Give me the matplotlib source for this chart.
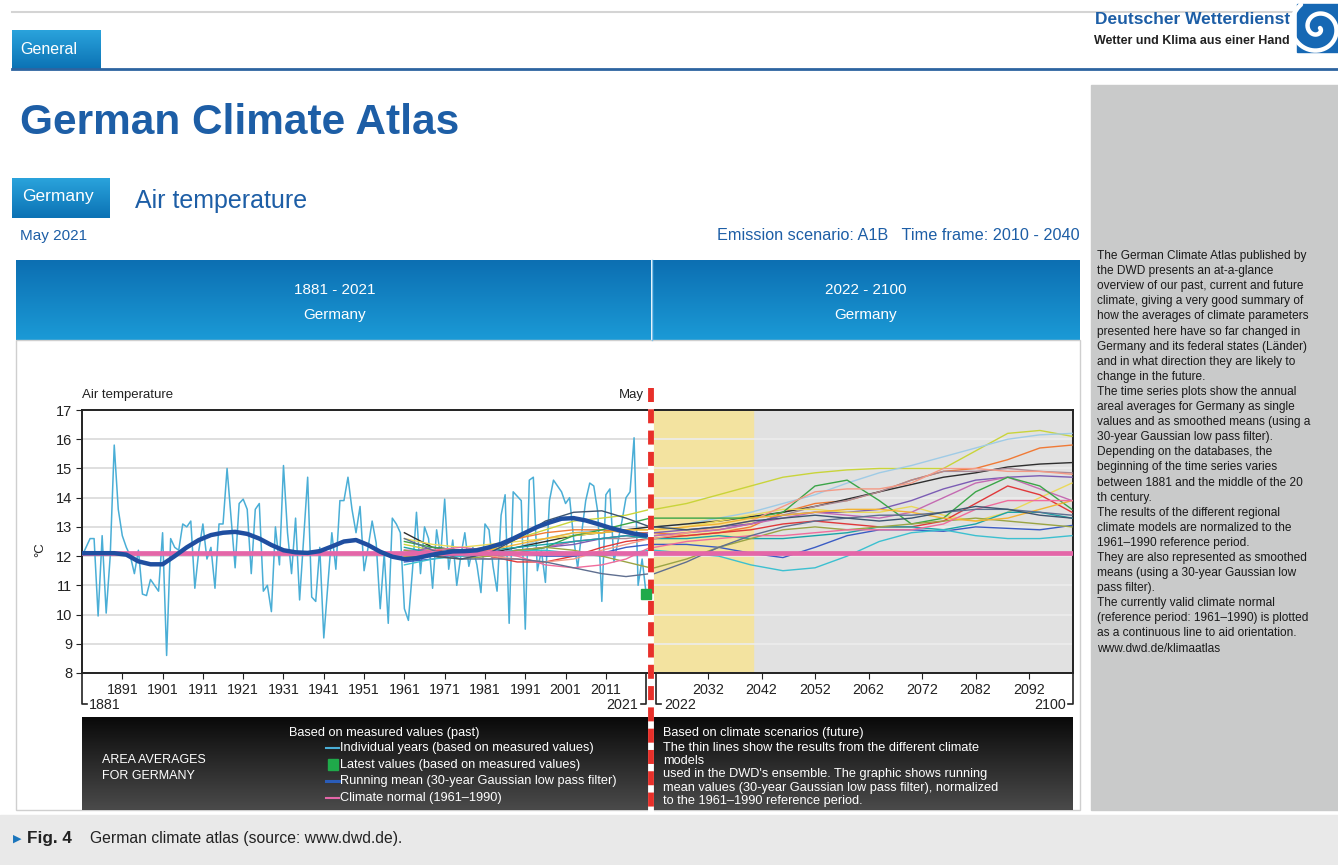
import numpy as np
import matplotlib.pyplot as plt
from matplotlib.colors import LinearSegmentedColormap
from matplotlib.patches import Rectangle
from matplotlib import font_manager

# --- dane (maj, srednia obszarowa Niemiec, degC) ---
YEARS = list(range(1881, 2022))
TEMP = [
    12.0, 12.3, 12.6, 12.6, 9.95, 12.7, 10.05, 12.0, 15.8, 13.6,      # 1881-1890
    12.7, 12.3, 12.0, 11.4, 12.2, 10.7, 10.65, 11.2, 11.0, 10.8,      # 1891-1900
    12.8, 8.6, 12.6, 12.3, 12.2, 13.1, 13.0, 13.2, 10.9, 12.2,        # 1901-1910
    13.1, 11.9, 12.3, 10.9, 13.1, 13.1, 15.0, 13.3, 11.6, 13.8,       # 1911-1920
    13.95, 13.6, 11.4, 13.6, 13.8, 10.8, 11.0, 10.1, 13.0, 11.7,      # 1921-1930
    15.1, 12.8, 11.4, 13.3, 10.5, 12.6, 14.7, 10.6, 10.45, 12.3,      # 1931-1940
    9.2, 11.0, 12.8, 11.55, 13.9, 13.9, 14.7, 13.6, 12.8, 13.7,       # 1941-1950
    11.5, 12.3, 13.2, 12.45, 10.2, 12.1, 9.7, 13.3, 13.1, 12.8,       # 1951-1960
    10.2, 9.8, 11.5, 13.5, 11.4, 13.0, 12.6, 10.9, 12.9, 12.0,        # 1961-1970
    13.95, 11.55, 12.55, 11.0, 12.0, 12.8, 11.65, 12.3, 11.7, 10.75,  # 1971-1980
    13.1, 12.9, 11.65, 10.8, 13.4, 14.1, 9.7, 14.2, 14.05, 13.9,      # 1981-1990
    9.5, 14.6, 14.7, 11.5, 12.2, 11.1, 13.9, 14.6, 14.4, 14.2,        # 1991-2000
    13.8, 14.0, 12.6, 11.6, 12.8, 13.9, 14.5, 14.4, 13.5, 10.45,      # 2001-2010
    14.1, 14.3, 11.8, 12.5, 13.2, 14.0, 14.2, 16.05, 11.0, 11.9,      # 2011-2020
    10.7,                                                              # 2021
]
LATEST_YEAR = 2021
LATEST_VALUE = 10.7
CLIMATE_NORMAL = 12.1

RM_YEARS = [1881, 1885, 1889, 1892, 1895, 1898, 1901, 1904, 1907, 1910, 1913,
            1916, 1919, 1922, 1925, 1928, 1931, 1934, 1937, 1940, 1943, 1946,
            1949, 1952, 1955, 1958, 1961, 1964, 1967, 1970, 1973, 1976, 1979,
            1982, 1985, 1988, 1991, 1994, 1997, 2000, 2003, 2006, 2009, 2012,
            2015, 2018, 2021]
RM_VALUES = [12.1, 12.1, 12.1, 12.05, 11.82, 11.72, 11.72, 12.0, 12.3, 12.55,
             12.72, 12.8, 12.83, 12.76, 12.6, 12.38, 12.2, 12.13, 12.11, 12.17,
             12.33, 12.5, 12.55, 12.38, 12.15, 11.98, 11.9, 11.93, 12.02, 12.1,
             12.16, 12.17, 12.2, 12.3, 12.42, 12.6, 12.8, 13.0, 13.15, 13.28,
             13.3, 13.22, 13.1, 12.97, 12.86, 12.77, 12.7]

# modele klimatyczne (A1B), wygladzone, znormalizowane do 1961-1990
MODEL_YEARS = [1961, 1968, 1975, 1982, 1989, 1996, 2003, 2010, 2016, 2022, 2028,
               2034, 2040, 2046, 2052, 2058, 2064, 2070, 2076, 2082, 2088, 2094, 2100]
MODEL_RUNS = [
    [12.4, 12.2, 12.1, 12.2, 12.6, 12.9, 13.2, 13.3, 13.4, 13.6, 13.8, 14.1, 14.4, 14.7, 14.85, 14.95, 15.0, 15.0, 15.0, 15.6, 16.2, 16.3, 16.1],
    [12.0, 12.1, 12.0, 12.1, 12.3, 12.6, 12.8, 12.9, 12.9, 13.0, 13.1, 13.3, 13.5, 13.8, 14.1, 14.5, 14.85, 15.1, 15.4, 15.7, 16.0, 16.15, 16.2],
    [11.9, 12.1, 12.2, 12.3, 12.6, 12.8, 12.9, 12.9, 12.8, 12.8, 12.7, 12.8, 13.0, 13.5, 13.8, 13.9, 14.2, 14.6, 14.9, 15.0, 15.3, 15.7, 15.8],
    [12.8, 12.3, 12.2, 12.1, 12.3, 12.5, 12.7, 12.8, 12.9, 13.0, 13.1, 13.2, 13.35, 13.5, 13.7, 13.95, 14.2, 14.45, 14.7, 14.85, 15.05, 15.15, 15.2],
    [12.2, 12.1, 12.0, 11.9, 12.1, 12.3, 12.5, 12.6, 12.6, 12.7, 12.8, 12.9, 13.1, 13.4, 13.7, 13.9, 14.2, 14.6, 14.9, 14.9, 15.0, 14.9, 14.85],
    [12.1, 12.3, 12.2, 12.1, 12.2, 12.3, 12.4, 12.6, 12.7, 12.8, 12.9, 13.0, 13.1, 13.4, 13.5, 13.5, 13.6, 13.9, 14.3, 14.6, 14.7, 14.75, 14.7],
    [12.6, 12.4, 12.3, 12.4, 12.5, 12.6, 12.7, 12.8, 12.9, 12.9, 13.0, 13.2, 13.4, 13.6, 13.6, 13.5, 13.5, 13.7, 13.4, 13.2, 13.5, 14.0, 14.5],
    [12.2, 12.2, 12.1, 12.1, 12.2, 12.3, 12.5, 12.6, 12.7, 12.7, 12.8, 12.9, 13.1, 13.3, 13.5, 13.4, 13.3, 13.5, 14.0, 14.5, 14.7, 14.3, 13.9],
    [12.5, 12.3, 12.2, 12.0, 12.1, 12.3, 12.7, 12.9, 13.1, 13.3, 13.3, 13.3, 13.3, 13.5, 14.4, 14.6, 13.9, 13.1, 13.3, 14.2, 14.7, 14.4, 13.6],
    [12.0, 12.2, 12.1, 12.0, 11.8, 11.8, 12.0, 12.3, 12.5, 12.6, 12.7, 12.8, 12.9, 13.1, 13.2, 13.1, 13.0, 13.0, 13.2, 13.8, 14.4, 14.1, 13.5],
    [12.3, 12.1, 12.0, 12.2, 12.3, 12.4, 12.5, 12.6, 12.7, 12.6, 12.6, 12.7, 12.6, 12.6, 12.7, 12.8, 13.0, 13.0, 12.9, 13.1, 13.5, 13.5, 13.3],
    [11.8, 11.9, 12.1, 12.2, 12.1, 12.0, 12.0, 12.1, 12.3, 12.4, 12.4, 12.3, 12.1, 11.95, 12.3, 12.7, 12.9, 12.9, 12.85, 13.0, 12.95, 12.9, 13.05],
    [11.7, 11.9, 12.0, 12.1, 12.2, 12.2, 12.1, 12.0, 12.1, 12.2, 12.1, 12.0, 11.7, 11.5, 11.6, 12.0, 12.5, 12.8, 12.9, 12.7, 12.6, 12.6, 12.7],
    [12.0, 12.1, 12.2, 12.0, 11.9, 11.8, 11.9, 12.2, 12.4, 12.6, 12.8, 13.0, 13.2, 13.7, 14.2, 14.3, 14.3, 14.5, 15.0, 15.0, 14.9, 14.9, 14.8],
    [12.2, 12.0, 11.9, 12.0, 12.2, 12.3, 12.2, 12.0, 11.8, 11.6, 11.9, 12.3, 12.6, 12.9, 13.0, 12.9, 13.0, 13.1, 13.2, 13.3, 13.2, 13.1, 13.0],
    [12.0, 12.0, 12.1, 12.2, 12.4, 12.6, 12.8, 12.8, 12.9, 12.9, 13.0, 13.1, 13.3, 13.4, 13.5, 13.6, 13.6, 13.5, 13.3, 13.2, 13.3, 13.6, 13.9],
    [12.1, 12.2, 12.3, 12.2, 12.0, 11.7, 11.6, 11.7, 11.9, 12.3, 12.5, 12.6, 12.7, 12.7, 12.8, 12.9, 12.9, 12.9, 13.1, 13.6, 13.9, 13.9, 13.9],
    [12.6, 12.2, 11.9, 11.9, 11.9, 11.8, 11.6, 11.4, 11.3, 11.4, 11.8, 12.3, 12.7, 13.0, 13.2, 13.3, 13.4, 13.4, 13.5, 13.6, 13.6, 13.5, 13.4],
    [12.1, 12.0, 11.9, 12.1, 12.6, 13.2, 13.5, 13.55, 13.3, 13.0, 12.9, 13.0, 13.2, 13.3, 13.4, 13.3, 13.2, 13.3, 13.5, 13.7, 13.6, 13.4, 13.3],
]
MODEL_COLORS = ["#c9d43a", "#9fcbe6", "#f07a36", "#2e2e2e", "#a98a96", "#7b5cb4",
                "#ead95a", "#c46ab2", "#3ba548", "#e0383a", "#1aa4a8", "#3b5cc4",
                "#3cc0d0", "#f49a86", "#9aa444", "#f2b234", "#f06c9c", "#5f6f90",
                "#3d5570"]

LEFT_TICKS = list(range(1891, 2012, 10))
RIGHT_TICKS = list(range(2032, 2093, 10))
Y_TICKS = list(range(8, 18))

SIDEBAR = [
    "The German Climate Atlas published by",
    "the DWD presents an at-a-glance",
    "overview of our past, current and future",
    "climate, giving a very good summary of",
    "how the averages of climate parameters",
    "presented here have so far changed in",
    "Germany and its federal states (Länder)",
    "and in what direction they are likely to",
    "change in the future.",
    "The time series plots show the annual",
    "areal averages for Germany as single",
    "values and as smoothed means (using a",
    "30-year Gaussian low pass filter).",
    "Depending on the databases, the",
    "beginning of the time series varies",
    "between 1881 and the middle of the 20",
    "th century.",
    "The results of the different regional",
    "climate models are normalized to the",
    "1961–1990 reference period.",
    "They are also represented as smoothed",
    "means (using a 30-year Gaussian low",
    "pass filter).",
    "The currently valid climate normal",
    "(reference period: 1961–1990) is plotted",
    "as a continuous line to aid orientation.",
    "www.dwd.de/klimaatlas",
]
LEGEND_PAST = [
    "Individual years (based on measured values)",
    "Latest values (based on measured values)",
    "Running mean (30-year Gaussian low pass filter)",
    "Climate normal (1961–1990)",
]
LEGEND_FUTURE = [
    "The thin lines show the results from the different climate",
    "models",
    "used in the DWD's ensemble. The graphic shows running",
    "mean values (30-year Gaussian low pass filter), normalized",
    "to the 1961–1990 reference period.",
]

# --- czcionki ---
names = {f.name for f in font_manager.fontManager.ttflist}
NARROW = "Liberation Sans Narrow" if "Liberation Sans Narrow" in names else "Liberation Sans"
CAP_SIZE = 13 if NARROW == "Liberation Sans Narrow" else 11
plt.rcParams['font.family'] = ['Liberation Sans', 'DejaVu Sans']

BLUE = "#1d5ea6"
W, H = 1338, 865
fig = plt.figure(figsize=(W / 100, H / 100), dpi=100)
fig.patch.set_facecolor("white")

bg = fig.add_axes([0, 0, 1, 1])
bg.axis('off')


def rect(x0, y0, x1, y1):
    return [x0 / W, 1 - y1 / H, (x1 - x0) / W, (y1 - y0) / H]


def box(ax, x0, y0, x1, y1, **kw):
    ax.add_patch(Rectangle((x0, y0), x1 - x0, y1 - y0, **kw))


def gradient(ax, x0, y0, x1, y1, c_top, c_bot, z=1):
    cmap = LinearSegmentedColormap.from_list('g', [c_top, c_bot])
    ax.imshow(np.linspace(0, 1, 64)[:, None], extent=[x0, x1, y1, y0], cmap=cmap,
              aspect='auto', zorder=z, interpolation='bicubic')


# --- naglowek ---
bg.plot([12, W], [12, 12], color="#d4d4d4", lw=1.5)
gradient(bg, 12, 30, 101, 69, "#2aa3dc", "#0b72b4")
bg.text(20, 50, "General", color="white", fontsize=11.5, va='center')
bg.plot([12, W], [69, 69], color="#2d64a0", lw=2)
bg.text(1290, 20, "Deutscher Wetterdienst", color=BLUE, fontsize=12.5,
        fontweight='bold', ha='right', va='center')
bg.text(1290, 41, "Wetter und Klima aus einer Hand", color="#222222", fontsize=9,
        fontweight='bold', ha='right', va='center')
box(bg, 1297, 4, 1340, 52, color="#1668b4", zorder=2)
t = np.linspace(0, 3.3 * np.pi, 200)
bg.plot(1318 + (2 + 2.6 * t) * np.cos(t), 28 + (2 + 2.6 * t) * np.sin(t),
        color="white", lw=3.2, zorder=3, solid_capstyle='round')

bg.text(20, 123, "German Climate Atlas", color=BLUE, fontsize=30.5,
        fontweight='bold', va='center')
box(bg, 1091, 85, W, 810, color="#c9caca", zorder=1)
for i, line in enumerate(SIDEBAR):
    bg.text(1097, 256 + i * 15.1, line, fontsize=8.6, color="#1a1a1a", va='center', zorder=2)

gradient(bg, 12, 178, 110, 218, "#2aa3dc", "#0b72b4")
bg.text(22, 197, "Germany", color="white", fontsize=12.5, va='center')
bg.text(135, 201, "Air temperature", color=BLUE, fontsize=18, va='center')
bg.text(20, 236, "May 2021", color=BLUE, fontsize=11, va='center')
bg.text(1080, 235, "Emission scenario: A1B   Time frame: 2010 - 2040", color=BLUE,
        fontsize=11.7, ha='right', va='center')

# pas z okresami
gradient(bg, 16, 260, 651, 340, "#0c6fb2", "#1b9ad6")
gradient(bg, 652, 260, 1080, 340, "#0c6fb2", "#1b9ad6")
bg.plot([651.5, 651.5], [260, 340], color="#7cc0e8", lw=1, zorder=2)
for cx, label in [(335, "1881 - 2021"), (866, "2022 - 2100")]:
    bg.text(cx, 290, label, color="white", fontsize=11, ha='center', va='center', zorder=3)
    bg.text(cx, 315, "Germany", color="white", fontsize=11, ha='center', va='center', zorder=3)

box(bg, 16, 340, 1080, 810, facecolor="white", edgecolor="#cfcfcf", lw=1, zorder=1)

# legenda (czarny pas)
gradient(bg, 82, 717, 1073, 810, "#0a0a0a", "#4a4a4a", z=2)
bg.text(102, 760, "AREA AVERAGES", color="white", fontsize=9, va='center', zorder=3)
bg.text(102, 776, "FOR GERMANY", color="white", fontsize=9, va='center', zorder=3)
bg.text(289, 733, "Based on measured values (past)", color="white", fontsize=9.2,
        va='center', zorder=3)
leg_y = [748, 765, 781, 798]
for y, label in zip(leg_y, LEGEND_PAST):
    bg.text(340, y, label, color="white", fontsize=9.2, va='center', zorder=3)
bg.plot([326, 339], [748, 748], color="#4aaed6", lw=1.5, zorder=3)
box(bg, 328, 759, 338, 770, color="#1faa4a", zorder=3)
bg.plot([326, 339], [781, 781], color="#2a5cb8", lw=2.2, zorder=3)
bg.plot([326, 339], [798, 798], color="#e466a8", lw=1.5, zorder=3)
bg.text(663, 733, "Based on climate scenarios (future)", color="white", fontsize=9.2,
        va='center', zorder=3)
for i, line in enumerate(LEGEND_FUTURE):
    bg.text(663, 748 + i * 13.2, line, color="white", fontsize=9.2, va='center', zorder=3)

# podpis
box(bg, 0, 815, W, H, color="#e9e9e9", zorder=1)
bg.text(13, 839, "▶", color="#1a75bc", fontsize=8, va='center', zorder=2,
        family=['DejaVu Sans'])
bg.text(27, 839, "Fig. 4", color="#222222", fontsize=CAP_SIZE + 1.3, fontweight='bold',
        va='center', zorder=2, family=[NARROW, 'DejaVu Sans'])
bg.text(90, 839, "German climate atlas (source: www.dwd.de).", color="#222222",
        fontsize=CAP_SIZE + 0.3, va='center', zorder=2, family=[NARROW, 'DejaVu Sans'])

bg.text(82, 395, "Air temperature", fontsize=9.5, color="#222222", va='center', zorder=3)
bg.text(644, 395, "May", fontsize=9.5, color="#222222", va='center', ha='right', zorder=3)
bg.text(40, 550, "°C", fontsize=9.5, color="#222222", va='center', ha='center',
        rotation=90, zorder=3)
bg.set_xlim(0, W)
bg.set_ylim(H, 0)

# --- wykresy ---
ax1 = fig.add_axes(rect(82, 410, 651, 673))
ax2 = fig.add_axes(rect(651, 410, 1073, 673))
ax1.set_xlim(1881, 2022.2)
ax2.set_xlim(2021.35, 2100.2)
ax2.set_facecolor("#e1e1e1")
ax2.axvspan(2021.35, 2040.4, color="#f3e3a0", zorder=0.5)

for ax, gc in [(ax1, "#d9d9d9"), (ax2, "#ececec")]:
    ax.set_ylim(8, 17)
    ax.set_yticks(Y_TICKS)
    ax.yaxis.grid(True, color=gc, lw=1.2, zorder=0.8)
    ax.set_axisbelow(True)
    for mv, col in zip(MODEL_RUNS, MODEL_COLORS):
        ax.plot(MODEL_YEARS, mv, color=col, lw=1.0, zorder=3)
    ax.axhline(CLIMATE_NORMAL, color="#e466a8", lw=3.4, zorder=4)
    for s in ax.spines.values():
        s.set_color("#222222")
        s.set_linewidth(1.4)
    ax.tick_params(axis='x', length=4, pad=3, labelsize=10.3, colors="#222222")

ax1.plot(YEARS, TEMP, color="#4aaed6", lw=1.1, zorder=2)
ax1.plot(RM_YEARS, RM_VALUES, color="#1f4ea0", lw=3.2, zorder=5, solid_capstyle='round')

ax1.set_xticks(LEFT_TICKS)
ax1.spines['right'].set_visible(False)
ax1.tick_params(axis='y', length=4, pad=3, labelsize=10.5, colors="#222222")
ax2.set_xticks(RIGHT_TICKS)
ax2.spines['left'].set_visible(False)
ax2.tick_params(axis='y', left=False, labelleft=False)

# --- nakladka: linia "maj", drugie etykiety osi ---
top = fig.add_axes([0, 0, 1, 1], zorder=10)
top.patch.set_alpha(0)
top.axis('off')
for x, y_end, dx in [(82, 704, 5), (646, 704, -5), (656, 704, 5), (1073, 704, -5)]:
    top.plot([x, x, x + dx], [674, y_end, y_end], color="#222222", lw=1.2)
top.text(89, 705, "1881", fontsize=10.3, color="#222222", va='center')
top.text(638, 705, "2021", fontsize=10.3, color="#222222", va='center', ha='right')
top.text(664, 705, "2022", fontsize=10.3, color="#222222", va='center')
top.text(1066, 705, "2100", fontsize=10.3, color="#222222", va='center', ha='right')
top.plot([651, 651], [388, 810], color="white", lw=4.2)
top.plot([651, 651], [388, 810], color="#e8302a", lw=4.2, dashes=(2.4, 1.25))
top.set_xlim(0, W)
top.set_ylim(H, 0)

# ostatnia wartosc (maj 2021) - zielony kwadrat na wierzchu
ax_top = fig.add_axes(rect(82, 410, 651, 673), zorder=11)
ax_top.set_xlim(ax1.get_xlim())
ax_top.set_ylim(8, 17)
ax_top.axis('off')
ax_top.plot([LATEST_YEAR], [LATEST_VALUE], marker='s', ms=7.5, color="#1faa4a",
            clip_on=False)

fig.savefig("out.png", dpi=100)
